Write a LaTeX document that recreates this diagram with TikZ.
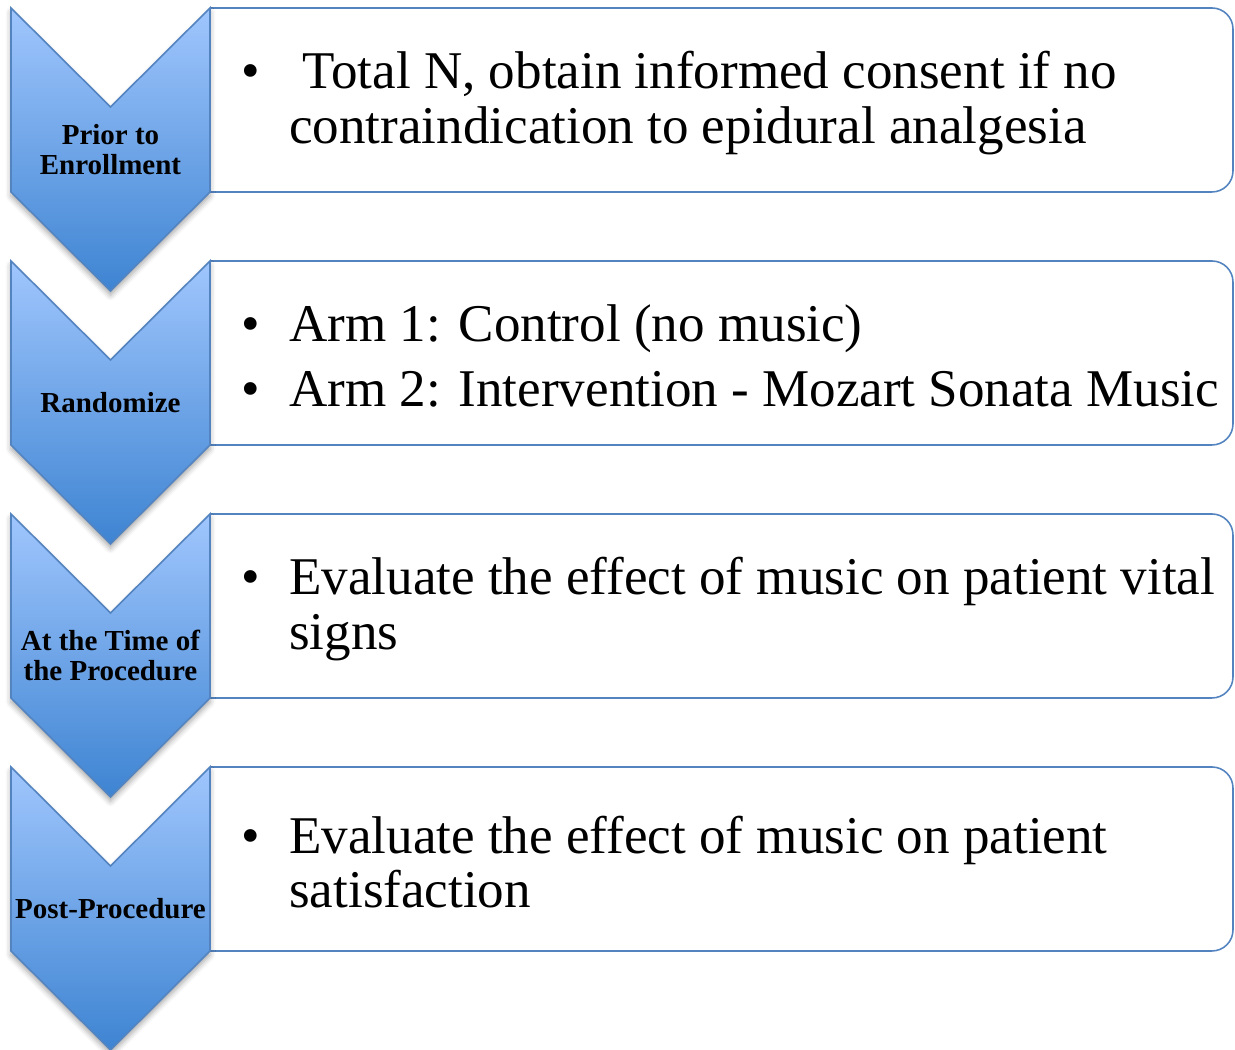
\documentclass[tikz,border=0pt]{standalone}
\usepackage{fontspec}
\setmainfont{Liberation Serif}
\usetikzlibrary{shadows.blur}
\definecolor{stepline}{RGB}{84,132,192}
\definecolor{steptop}{RGB}{160,198,253}
\definecolor{stepbot}{RGB}{62,132,210}

\begin{document}
\begin{tikzpicture}[x=0.02cm,y=0.02cm,
 chev/.style={draw=stepline,line width=.9pt,top color=steptop,bottom color=stepbot,
  blur shadow={shadow xshift=0pt,shadow yshift=-2.5pt,shadow blur radius=3pt,shadow opacity=35}},
 card/.style={draw=stepline,line width=.9pt,rounded corners=12pt},
 lab/.style={align=center,inner sep=0pt,font=\bfseries\fontsize{16.5}{17}\selectfont},
 txt/.style={anchor=west,align=left,inner sep=0pt,font=\fontsize{30.2}{31}\selectfont}]
\useasboundingbox (0,0) rectangle (1235,1050);
\newcommand{\bul}{\makebox[0.96cm][l]{\textbullet}}
\newcommand{\ind}{\hspace*{0.96cm}}
% one step: name, top y, chevron label, text
\newcommand{\FStep}[4]{%
 \draw[card] (210,#2) -- (1233,#2) -- (1233,#2-184) -- (210,#2-184);
 \draw[chev] (11,#2) -- (110.5,#2-99) -- (210,#2) -- (210,#2-184) -- (110.5,#2-283) -- (11,#2-184) -- cycle;
 \node[lab] (#1-lab) at (110.5,#2-141.5) {#3};
 \node[txt] (#1-txt) at (241,#2-95) {#4};}
\FStep{enrol}{1042}{Prior to\\Enrollment}{\bul{} Total N, obtain informed consent if no\\\ind contraindication to epidural analgesia}
\FStep{rand}{789}{Randomize}{\bul Arm 1: Control (no music)\\[6pt]\bul Arm 2: Intervention - Mozart Sonata Music}
\FStep{proc}{536}{At the Time of\\the Procedure}{\bul Evaluate the effect of music on patient vital\\\ind signs}
\FStep{post}{283}{Post-Procedure}{\bul Evaluate the effect of music on patient\\\ind satisfaction}
\end{tikzpicture}
\end{document}
